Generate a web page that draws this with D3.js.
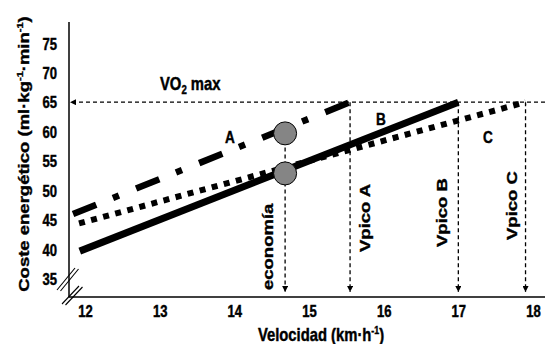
<!DOCTYPE html>
<html>
<head>
<meta charset="utf-8">
<script src="https://cdn.jsdelivr.net/npm/d3@7"></script>
<style>
  html, body { margin: 0; padding: 0; background: #fff; }
  svg { display: block; }
  text { font-family: "Liberation Sans", Arial, Helvetica, sans-serif; font-weight: bold; fill: #000;
         stroke: #000; stroke-width: 0.45px; }
</style>
</head>
<body>
<svg id="chart" width="546" height="344"></svg>
<script>
// Speed axis (km/h) and energy-cost axis (ml/kg/min)
const speedTicks = [12, 13, 14, 15, 16, 17, 18];
const costTicks = [35, 40, 45, 50, 55, 60, 65, 70, 75];

// Three runners: each cost line runs from its starting point up to VO2 max
const runners = ["A", "B", "C"];
const startSpeed = [11.84, 11.93, 11.92];
const startCost = [46.0, 39.7, 44.4];
const peakSpeed = [15.55, 17.0, 17.9];   // Vpico A, B, C
const vo2max = 65;

// Running economy compared at one common speed
const economySpeed = 14.68;
const economyCost = [59.7, 52.9];

const svg = d3.select("#chart");
const x = d3.scaleLinear().domain([12, 18]).range([85, 533]);
const y = d3.scaleLinear().domain([35, 75]).range([278.8, 43.3]);

const axisX = 69, axisY = 297;
const SX = 0.8; // horizontal squeeze of the lettering

function hText(px, py, size, anchor) {
  return svg.append("text")
    .attr("transform", `translate(${px},${py}) scale(${SX},1)`)
    .attr("font-size", size).attr("text-anchor", anchor);
}
function vText(px, py, size, anchor) {
  return svg.append("text")
    .attr("transform", `translate(${px},${py}) scale(${SX},1) rotate(-90)`)
    .attr("font-size", size).attr("text-anchor", anchor);
}
// Fill a text with runs of normal and raised (superscript) pieces
function runs(t, parts, supSize) {
  let shift = 0;
  parts.forEach(([s, isSup]) => {
    const target = isSup ? -7 : 0;
    const ts = t.append("tspan").attr("dy", target - shift).text(s);
    if (isSup) ts.attr("font-size", supSize);
    shift = target;
  });
}

// Arrowhead marker for the dashed guide lines
const defs = svg.append("defs");
defs.append("marker")
  .attr("id", "arrow")
  .attr("viewBox", "0 0 10 10")
  .attr("refX", 10).attr("refY", 5)
  .attr("markerWidth", 6).attr("markerHeight", 6)
  .attr("markerUnits", "userSpaceOnUse")
  .attr("orient", "auto")
  .append("path").attr("d", "M0,0L10,5L0,10Z").attr("fill", "#000");

// Axis lines
svg.append("line").attr("x1", axisX).attr("x2", axisX).attr("y1", 22).attr("y2", axisY)
  .attr("stroke", "#000").attr("stroke-width", 1.5);
svg.append("line").attr("x1", axisX).attr("x2", 545).attr("y1", axisY).attr("y2", axisY)
  .attr("stroke", "#000").attr("stroke-width", 1.5);

// Axis-break marks
const breaks = [
  [[57, 290], [75, 268]], [[60.5, 291], [78.5, 269]],
  [[62, 304], [79, 286]], [[65.5, 305], [82.5, 287]]
];
breaks.forEach(b => svg.append("line")
  .attr("x1", b[0][0]).attr("y1", b[0][1]).attr("x2", b[1][0]).attr("y2", b[1][1])
  .attr("stroke", "#000").attr("stroke-width", 1.1));

// Tick labels through D3 axes
const gy = svg.append("g").attr("transform", `translate(${axisX},0)`)
  .call(d3.axisLeft(y).tickValues(costTicks).tickSize(0));
gy.select(".domain").remove();
gy.selectAll("text")
  .attr("x", null).attr("dy", null)
  .attr("transform", `translate(-12,5.8) scale(${SX},1)`)
  .attr("text-anchor", "end")
  .attr("font-size", 16.3).attr("font-family", null).attr("fill", "#000");

const gx = svg.append("g").attr("transform", `translate(0,${axisY})`)
  .call(d3.axisBottom(x).tickValues(speedTicks).tickSize(0).tickFormat(d3.format("d")));
gx.select(".domain").remove();
gx.selectAll("text")
  .attr("y", null).attr("dy", null)
  .attr("transform", `translate(0,20) scale(${SX},1)`)
  .attr("text-anchor", "middle")
  .attr("font-size", 16.3).attr("font-family", null).attr("fill", "#000");

// VO2 max guide
svg.append("line")
  .attr("x1", 545).attr("x2", axisX + 1)
  .attr("y1", y(vo2max)).attr("y2", y(vo2max))
  .attr("stroke", "#000").attr("stroke-width", 1.3)
  .attr("stroke-dasharray", "4,3")
  .attr("marker-end", "url(#arrow)");

// Vertical guides down to the speed axis
const guideTops = [
  { s: economySpeed, c: economyCost[0] },
  ...peakSpeed.map(s => ({ s, c: vo2max }))
];
guideTops.forEach(g => svg.append("line")
  .attr("x1", x(g.s)).attr("x2", x(g.s))
  .attr("y1", y(g.c)).attr("y2", axisY - 5)
  .attr("stroke", "#000").attr("stroke-width", 1.3)
  .attr("stroke-dasharray", "4,3")
  .attr("marker-end", "url(#arrow)"));

// Cost lines
const lineStyles = {
  A: { w: 6.5, dash: "25,18,6.5,18.5" },
  B: { w: 7, dash: null },
  C: { w: 6, dash: "6,6.5" }
};
const line = d3.line().x(d => x(d[0])).y(d => y(d[1]));
["C", "A", "B"].forEach(r => {
  const i = runners.indexOf(r);
  const pts = [[startSpeed[i], startCost[i]], [peakSpeed[i], vo2max]];
  svg.append("path")
    .attr("d", line(pts))
    .attr("fill", "none").attr("stroke", "#000")
    .attr("stroke-width", lineStyles[r].w)
    .attr("stroke-dasharray", lineStyles[r].dash);
});

// Economy markers
svg.selectAll("circle.eco").data(economyCost).join("circle")
  .attr("class", "eco")
  .attr("cx", x(economySpeed)).attr("cy", d => y(d))
  .attr("r", 11.5)
  .attr("fill", "#858585").attr("stroke", "#000").attr("stroke-width", 1);

// Labels
const vo = hText(160, 90, 18.5, "start");
vo.append("tspan").text("VO");
vo.append("tspan").attr("dy", 4).attr("font-size", 12).text("2");
vo.append("tspan").attr("dy", -4).text(" max");

hText(230, 143, 17, "middle").text("A");
hText(381, 125, 17, "middle").text("B");
hText(488, 143, 17, "middle").text("C");

vText(273, 290, 18.5, "start").text("economía");
vText(370, 252, 18.5, "start").text("Vpico A");
vText(447, 247, 18.5, "start").text("Vpico B");
vText(517, 240, 18.5, "start").text("Vpico C");

// Axis titles
const yt = vText(29, 154, 18.5, "middle");
runs(yt, [["Coste energético (ml·kg", false], ["-1", true], ["·min", false], ["-1", true], [")", false]], 11);

const xt = hText(321, 341, 18.5, "middle");
runs(xt, [["Velocidad (km·h", false], ["-1", true], [")", false]], 11);
</script>
</body>
</html>
